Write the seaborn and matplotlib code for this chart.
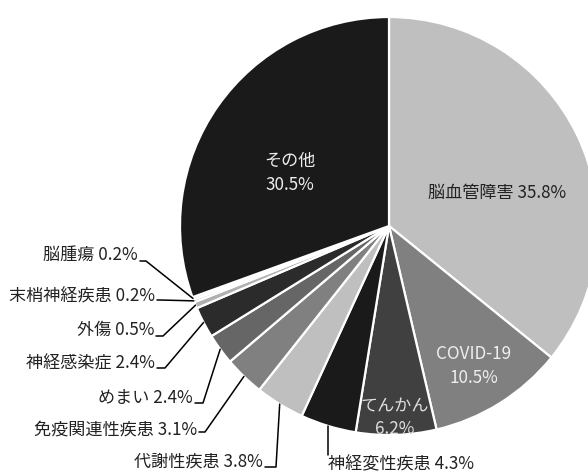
import numpy as np
import matplotlib
matplotlib.use("Agg")
import matplotlib.pyplot as plt
import seaborn as sns

# データ（割合 %）
categories = ["脳血管障害", "COVID-19", "てんかん", "神経変性疾患", "代謝性疾患",
              "免疫関連性疾患", "めまい", "神経感染症", "外傷", "末梢神経疾患",
              "脳腫瘍", "その他"]
shares = [35.8, 10.5, 6.2, 4.3, 3.8, 3.1, 2.4, 2.4, 0.5, 0.2, 0.2, 30.5]
slice_colors = ["#bfbfbf", "#808080", "#404040", "#1a1a1a", "#bfbfbf", "#808080",
                "#666666", "#2b2b2b", "#b0b0b0", "#a0a0a0", "#d0d0d0", "#1a1a1a"]

W, H = 588, 474
FS = 12.3


def px(x, y):
    """画像座標(左上原点) -> データ座標"""
    return x, H - y


sns.set_theme(style="white")
plt.rcParams["font.family"] = ["Noto Sans CJK JP", "DejaVu Sans"]

fig = plt.figure(figsize=(W / 100, H / 100), dpi=100)
ax = fig.add_axes([0, 0, 1, 1])

cx, cy = px(389, 226)
R = 209
wedges, _ = ax.pie(shares, colors=slice_colors, startangle=90, counterclock=False,
                   radius=R, center=(cx, cy),
                   wedgeprops=dict(edgecolor="white", linewidth=1.6))
ax.set_xlim(0, W)
ax.set_ylim(0, H)
ax.set_aspect("equal")
ax.axis("off")


def label_text(i):
    return f"{categories[i]} {shares[i]:.1f}%"


# 円の中のラベル: (index, 位置, 文字色, 2行にするか)
inner = [
    (0, (497, 193), "#222222", False),
    (1, (474, 366), "#eeeeee", True),
    (2, (395, 417), "#dddddd", True),
    (11, (290, 173), "#eeeeee", True),
]
for i, (x, y), col, two in inner:
    s = f"{categories[i]}\n{shares[i]:.1f}%" if two else label_text(i)
    ax.text(*px(x, y), s, ha="center", va="center", color=col, fontsize=FS,
            linespacing=1.4)

# 外側ラベル: (index, 文字の右端x, 文字の中心y, 線のy, 折れ点x)
outer = [
    (10, 138, 255, 261, 146),
    (9, 155, 297, 300, 160),
    (8, 154, 330, 336, 163),
    (7, 155, 363, 368, 165),
    (6, 193, 398, 403, 203),
    (5, 197, 430, 432, 205),
    (4, 263, 462, 467, 276),
]
for i, tx, ty, ly, ex in outer:
    w = wedges[i]
    a = np.deg2rad((w.theta1 + w.theta2) / 2)
    sx, sy = cx + R * np.cos(a), cy + R * np.sin(a)
    ax.plot([sx, ex, tx + 2], [sy, H - ly, H - ly], color="black", lw=1.1)
    ax.text(*px(tx, ty), label_text(i), ha="right", va="center", fontsize=FS,
            color="#222222")

# 神経変性疾患（下に縦線）
w = wedges[3]
a = np.deg2rad((w.theta1 + w.theta2) / 2)
sx, sy = cx + R * np.cos(a), cy + R * np.sin(a)
ax.plot([sx, sx], [sy, H - 455], color="black", lw=1.1)
ax.text(*px(328, 464), label_text(3), ha="left", va="center", fontsize=FS,
        color="#222222")

fig.savefig("out.png", dpi=100)
